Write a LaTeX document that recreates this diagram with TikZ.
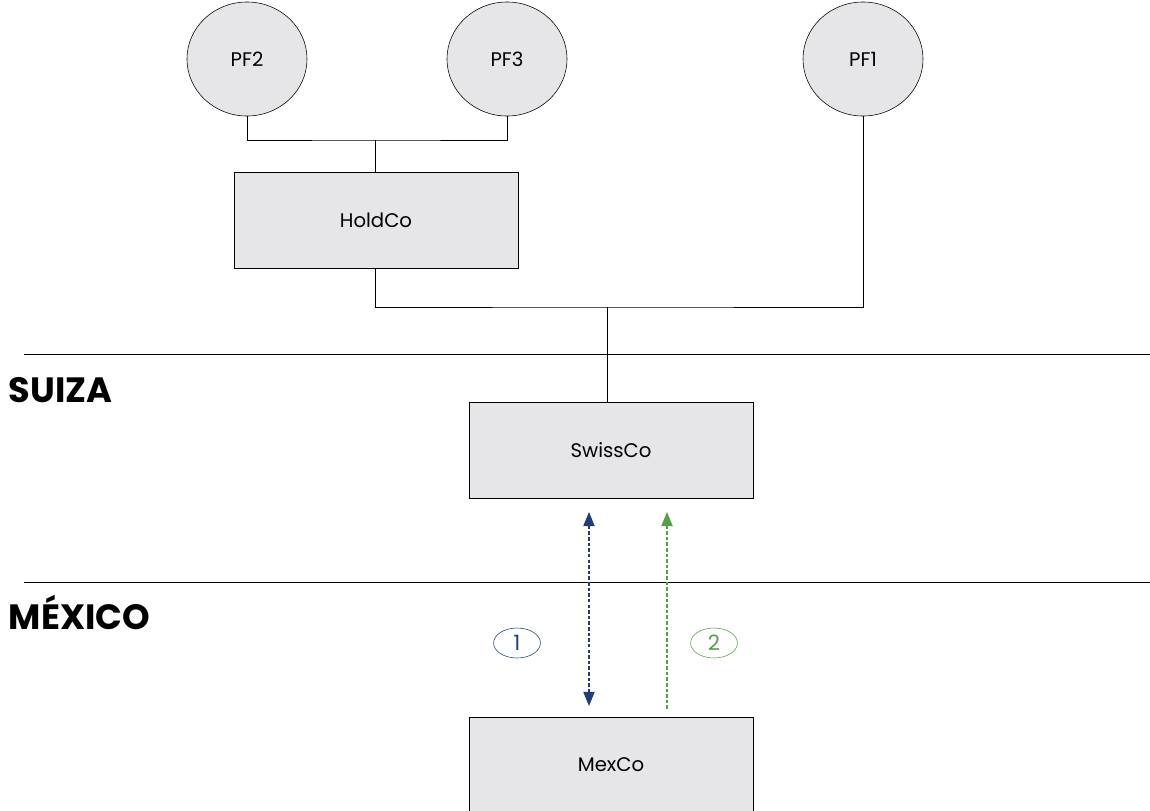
\documentclass[tikz,border=0pt]{standalone}
\usepackage{fontspec}
\setmainfont{Poppins}
\usepackage{tikz}
\usetikzlibrary{shapes.geometric}
\usetikzlibrary{arrows.meta}
\definecolor{boxgray}{RGB}{230,230,232}
\definecolor{flowblue}{RGB}{31,61,122}
\definecolor{flowgreen}{RGB}{84,160,72}
\tikzset{
    x=0.025cm, y=-0.025cm, % one unit is one pixel of the reference
    line width=0.7pt,
    person/.style={ % Sets the properties for the individuals
        ellipse, draw,
        fill=boxgray,
        minimum width=3cm, minimum height=2.85cm,
        font=\fontsize{14}{16}\selectfont
    },
    company/.style={ % Sets the properties for each company
        rectangle, draw,
        fill=boxgray,
        minimum width=7.1cm, minimum height=2.4cm,
        font=\fontsize{14}{16}\selectfont
    },
    country/.style={
        anchor=west,
        font=\fontsize{25}{28}\selectfont\bfseries
    },
    tag/.style={
        ellipse, draw,
        minimum width=1.17cm, minimum height=0.75cm,
        inner sep=0pt,
        font=\fontsize{15}{17}\selectfont
    },
    flow/.style={
        line width=0.8pt,
        dash pattern=on 2.5pt off 1.5pt,
        >={Triangle[width=8pt,length=10pt]}
    }
}
\begin{document}
\begin{tikzpicture}
            \useasboundingbox (0,0) rectangle (1150,810);
            % owners
            \node[person] (pf2) at (247,59) {PF2};
            \node[person] (pf3) at (507,59) {PF3};
            \node[person] (pf1) at (863,59) {PF1};
            % companies
            \node[company] (holdco) at (376,220) {HoldCo};
            \node[company] (swissco) at (611,450) {SwissCo};
            \node[company] (mexco) at (611,765) {MexCo};
            % ownership lines
            \coordinate (j1) at (375,140);
            \coordinate (j2) at (607,307);
            \draw (pf2.south) |- (j1) -| (pf3.south);
            \draw (j1) -- (holdco.north -| j1);
            \draw (holdco.south -| j1) |- (j2) -| (pf1.south);
            \draw (j2) -- (swissco.north -| j2);
            % borders
            \coordinate (b1l) at (24,354);
            \coordinate (b1r) at (1150,354);
            \coordinate (b2l) at (24,582);
            \coordinate (b2r) at (1150,582);
            \draw (b1l) -- (b1r);
            \draw (b2l) -- (b2r);
            \node[country] (suiza) at (4,390) {SUIZA};
            \node[country] (mexico) at (4,612) {MÉXICO};
            % flows
            \coordinate (f1a) at (589,512);
            \coordinate (f1b) at (589,706);
            \coordinate (f2a) at (667,709);
            \coordinate (f2b) at (667,512);
            \draw[flow, flowblue, <->] (f1a) -- (f1b);
            \draw[flow, flowgreen, ->] (f2a) -- (f2b);
            \node[tag, flowblue] (t1) at (517,643) {1};
            \node[tag, flowgreen] (t2) at (714,643) {2};
        \end{tikzpicture}
\end{document}
